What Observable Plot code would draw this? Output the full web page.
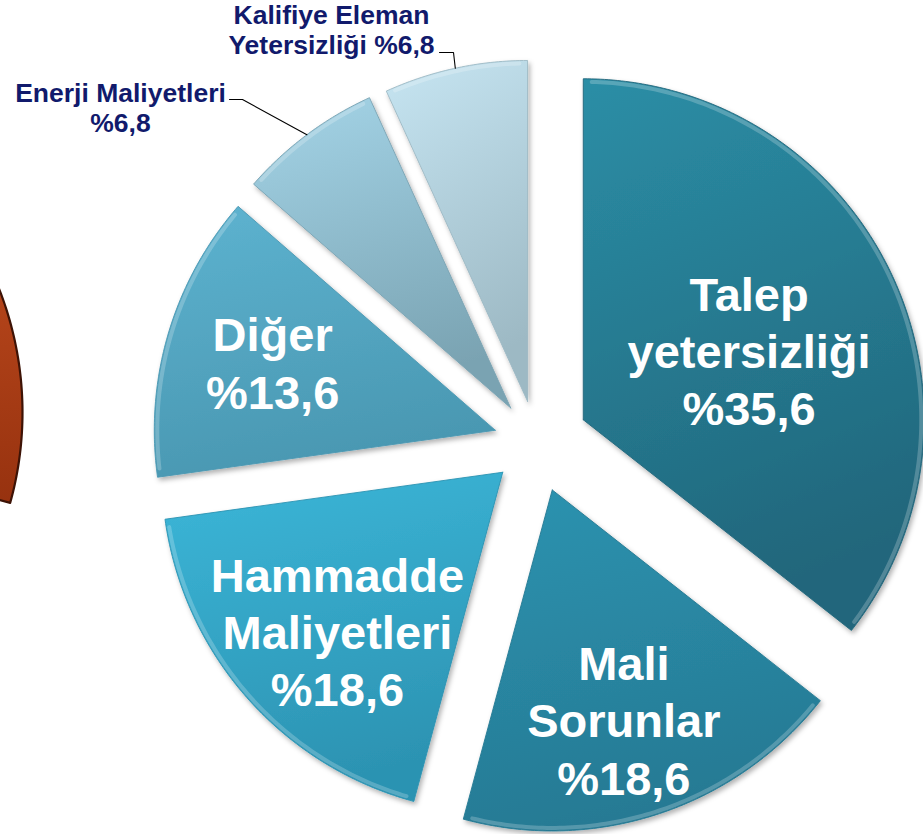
<!DOCTYPE html>
<html>
<head>
<meta charset="utf-8">
<script src="https://cdn.jsdelivr.net/npm/d3@7"></script>
<script src="https://cdn.jsdelivr.net/npm/@observablehq/plot@0.6"></script>
<style>
  html, body { margin: 0; padding: 0; background: #ffffff; overflow: hidden; }
  #chart svg { display: block; }
</style>
</head>
<body>
<div id="chart"></div>
<script>
// ---------- DATA ----------
const categories = ["Talep yetersizliği", "Mali Sorunlar", "Hammadde Maliyetleri", "Diğer", "Enerji Maliyetleri", "Kalifiye Eleman Yetersizliği"];
const values = [35.6, 18.6, 18.6, 13.6, 6.8, 6.8];
const labelTexts = ["Talep\nyetersizliği\n%35,6", "Mali\nSorunlar\n%18,6", "Hammadde\nMaliyetleri\n%18,6", "Diğer\n%13,6", "Enerji Maliyetleri\n%6,8", "Kalifiye Eleman\nYetersizliği %6,8"];

// ---------- STYLE / LAYOUT ----------
const W = 923, H = 834;
const CX = 536, CY = 442, R = 341;
const explode = [52, 50, 45, 43, 43, 42];
const gradTop = ["#2b8ea6", "#2c93b0", "#3cb7d9", "#5db3d0", "#a4d4e7", "#c6e5f2"];
const gradBot = ["#21667b", "#267a94", "#2c93b2", "#4a98b2", "#7aa3b2", "#9db9c4"];
const insideLabel = [true, true, true, true, false, false];
// inside labels: distance from slice tip and angular turn (deg) from the slice's mid angle
const labelDist = [180, 240, 229, 233];
const labelTurn = [3.0, 1.0, -2.4, 0.6];
// outside labels: [x, y] of the text block and of the leader elbow
const outsideLabelPos = {4: [120, 107], 5: [331, 29]};
const leaderElbow = {4: [[229, 99], [242, 99]], 5: [[439, 52], [453, 52]]};
// neighbouring (cut-off) chart fragment at the left edge
const NB = {cx: -316, cy: 412, r: 338, a0: 68.5, a1: 105.5};

// ---------- GEOMETRY ----------
const rad = d => d * Math.PI / 180;
const polar = (cx, cy, r, a) => [cx + r * Math.sin(a), cy - r * Math.cos(a)];
const arcs = d3.pie().sort(null).value(d => d)(values);

const slices = arcs.map((p, i) => {
  const mid = (p.startAngle + p.endAngle) / 2;
  const [tx, ty] = polar(CX, CY, explode[i], mid);
  const n = Math.max(10, Math.ceil((p.endAngle - p.startAngle) * 80));
  const outline = [{x: tx, y: ty}];
  const rim = [];
  for (let k = 0; k <= n; k++) {
    const a = p.startAngle + (p.endAngle - p.startAngle) * k / n;
    const [x, y] = polar(tx, ty, R, a);
    outline.push({x, y});
    const [hx, hy] = polar(tx, ty, R - 3, a);
    if (k > 1 && k < n - 1) rim.push({x: hx, y: hy});
  }
  outline.push({x: tx, y: ty});
  return {i, mid, tx, ty, outline, rim};
});

// inside labels
const inLabels = slices.filter(s => insideLabel[s.i]).map(s => {
  const [x, y] = polar(s.tx, s.ty, labelDist[s.i], s.mid + rad(labelTurn[s.i]));
  return {x, y, text: labelTexts[s.i]};
});
// outside labels + leaders
const outLabels = slices.filter(s => !insideLabel[s.i]).map(s => ({
  x: outsideLabelPos[s.i][0], y: outsideLabelPos[s.i][1], text: labelTexts[s.i]
}));
const leaders = slices.filter(s => !insideLabel[s.i]).flatMap(s => {
  const [ex, ey] = polar(s.tx, s.ty, R, s.mid);
  const pts = leaderElbow[s.i].map(([x, y]) => ({k: s.i, x, y}));
  pts.push({k: s.i, x: ex, y: ey});
  return pts;
});

// fragment of neighbouring chart
const nbPts = [];
for (let k = 0; k <= 40; k++) {
  const a = rad(NB.a0 + (NB.a1 - NB.a0) * k / 40);
  const [x, y] = polar(NB.cx, NB.cy, NB.r, a);
  nbPts.push({x, y});
}
const nbLast = nbPts[nbPts.length - 1];
nbPts.push({x: -20, y: nbLast.y - 8}, {x: -20, y: nbPts[0].y});

// ---------- PLOT ----------
const marks = [];
marks.push(Plot.line(nbPts, {x: "x", y: "y", fill: "url(#gradNB)", stroke: "#3d1306", strokeWidth: 2.2, curve: "linear"}));
slices.forEach(s => {
  marks.push(Plot.line(s.outline, {x: "x", y: "y", fill: `url(#grad${s.i})`, stroke: gradBot[s.i], strokeWidth: 1, strokeOpacity: 0.9, curve: "linear"}));
  marks.push(Plot.line(s.rim, {x: "x", y: "y", stroke: "#ffffff", strokeOpacity: 0.22, strokeWidth: 4, curve: "linear"}));
});
marks.push(Plot.line(leaders, {x: "x", y: "y", z: "k", stroke: "#000000", strokeWidth: 1.1, curve: "linear"}));
marks.push(Plot.text(inLabels, {
  x: "x", y: "y", text: "text", fill: "#ffffff", fontSize: 47, fontWeight: "bold",
  fontFamily: "Liberation Sans, Arial, sans-serif", lineHeight: 1.22, textAnchor: "middle", lineAnchor: "middle"
}));
marks.push(Plot.text(outLabels, {
  x: "x", y: "y", text: "text", fill: "#111a6c", fontSize: 26.5, fontWeight: "bold",
  fontFamily: "Liberation Sans, Arial, sans-serif", lineHeight: 1.15, textAnchor: "middle", lineAnchor: "middle"
}));

const chart = Plot.plot({
  width: W, height: H,
  margin: 0,
  x: {domain: [0, W], range: [0, W], axis: null},
  y: {domain: [0, H], range: [0, H], axis: null},
  style: {background: "#ffffff", overflow: "hidden"},
  marks
});

// gradients and soft shadow
const svg = d3.select(chart);
const defs = svg.insert("defs", ":first-child");
slices.forEach(s => {
  const g = defs.append("linearGradient").attr("id", `grad${s.i}`)
    .attr("x1", 0).attr("y1", 0).attr("x2", 0.25).attr("y2", 1);
  g.append("stop").attr("offset", "0%").attr("stop-color", gradTop[s.i]);
  g.append("stop").attr("offset", "100%").attr("stop-color", gradBot[s.i]);
});
const gnb = defs.append("linearGradient").attr("id", "gradNB").attr("x1", 0).attr("y1", 0).attr("x2", 0).attr("y2", 1);
gnb.append("stop").attr("offset", "0%").attr("stop-color", "#b4441a");
gnb.append("stop").attr("offset", "100%").attr("stop-color", "#97320f");
const f = defs.append("filter").attr("id", "shadow").attr("x", "-10%").attr("y", "-10%").attr("width", "120%").attr("height", "120%");
f.append("feDropShadow").attr("dx", 2).attr("dy", 3).attr("stdDeviation", 2.5).attr("flood-color", "#000").attr("flood-opacity", 0.3);
svg.selectAll("path").filter(function () {
  const fl = this.getAttribute("fill") || (this.parentNode && this.parentNode.getAttribute("fill")) || "";
  return fl.startsWith("url(#grad") && !fl.includes("NB");
}).attr("filter", "url(#shadow)");

document.getElementById("chart").appendChild(chart);
</script>
</body>
</html>
